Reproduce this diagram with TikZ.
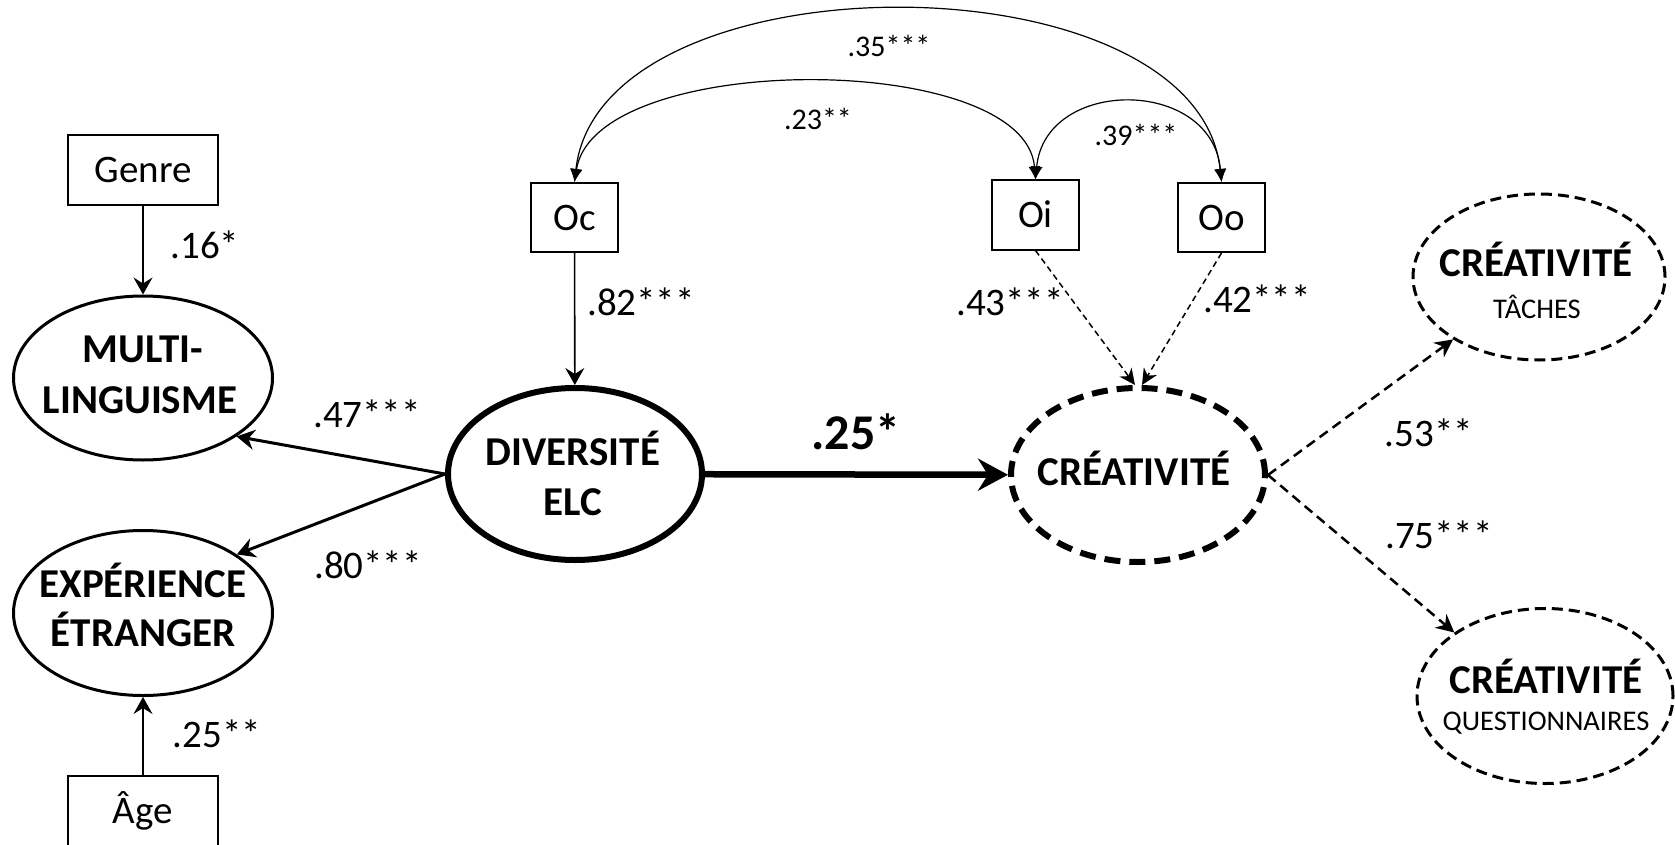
\documentclass[tikz,border=0pt]{standalone}
\usepackage{fontspec}
\setmainfont{Carlito}
\usetikzlibrary{arrows.meta,shapes.geometric}
\newcommand\myreg{\fontsize{39}{46}\selectfont}
\newcommand\mybold{\fontsize{41}{48}\selectfont\bfseries}
\newcommand\mysmall{\fontsize{30}{36}\selectfont}
\newcommand\mysub{\fontsize{28.5}{33}\selectfont}
\newcommand\mybig{\fontsize{50}{58}\selectfont\bfseries}
\begin{document}
\begin{tikzpicture}[x=1pt,y=-1pt,
  box/.style={draw, line width=2pt, minimum width=150pt, minimum height=70pt, inner sep=0pt, text height=25pt, text depth=0pt, font=\myreg},
  obox/.style={box, minimum width=87pt, minimum height=69pt},
  lat/.style={ellipse, draw, line width=3pt, inner sep=0pt, minimum width=259pt, minimum height=164pt},
  biglat/.style={ellipse, draw, line width=6pt, inner sep=0pt, minimum width=254pt, minimum height=172pt},
  dlat/.style={ellipse, draw, line width=3pt, inner sep=0pt, dash pattern=on 11pt off 6pt},
  tb/.style={anchor=base, inner sep=0pt, font=\mybold},
  ts/.style={anchor=base, inner sep=0pt, font=\mysub},
  lab/.style={anchor=base, inner sep=0pt, font=\myreg},
  slab/.style={anchor=base, inner sep=0pt, font=\mysmall},
  thinarr/.style={line width=1.3pt, -{Stealth[length=17pt,width=19pt,inset=6pt]}},
  midarr/.style={line width=3pt, -{Stealth[length=18pt,width=20pt,inset=6pt]}},
  thickarr/.style={line width=6.5pt, -{Stealth[length=30pt,width=32pt,inset=10pt]}},
  dasharr/.style={line width=2.5pt, dash pattern=on 10pt off 6pt, -{Stealth[length=18pt,width=18pt,inset=6pt]}},
  thindash/.style={line width=1.5pt, dash pattern=on 6pt off 4pt, -{Stealth[length=16pt,width=15pt,inset=5pt]}},
  corr/.style={line width=1.2pt, {Latex[length=13pt,width=12pt]}-{Latex[length=13pt,width=12pt]}}
]
\path[use as bounding box, clip] (0,0) rectangle (1675,845);

% observed boxes
\node[box] (genre) at (143,170) {Genre};
\node[box] (age) at (143,811) {Âge};
\node[obox] (oc) at (574.5,217.5) {Oc};
\node[obox] (oi) at (1035.5,215) {Oi};
\node[obox] (oo) at (1221.5,217.5) {Oo};

% latent ellipses
\node[lat] (multi) at (143,378) {};
\node[lat, minimum height=165pt] (exp) at (143,613) {};
\node[biglat] (div) at (575,474) {};
\node[biglat, dash pattern=on 16pt off 9pt, minimum height=174pt] (cre) at (1138,475) {};
\node[dlat, minimum width=252pt, minimum height=166pt] (tach) at (1539,277) {};
\node[dlat, minimum width=256pt, minimum height=175pt] (ques) at (1545,696) {};

% texts in ellipses
\node[tb] (multi1) at (143,362) {MULTI-};
\node[tb] (multi2) at (140,413) {LINGUISME};
\node[tb] (exp1) at (143,597) {EXPÉRIENCE};
\node[tb] (exp2) at (143,646) {ÉTRANGER};
\node[tb] (div1) at (573,465) {DIVERSITÉ};
\node[tb] (div2) at (573,515) {ELC};
\node[tb] (cre1) at (1134,485) {CRÉATIVITÉ};
\node[tb] (tach1) at (1536,276) {CRÉATIVITÉ};
\node[ts] (tach2) at (1537,318) {TÂCHES};
\node[tb] (ques1) at (1546,693) {CRÉATIVITÉ};
\node[ts] (ques2) at (1546,730) {QUESTIONNAIRES};

% connectors
\draw[thinarr] (genre) -- (multi);
\draw[thinarr] (age) -- (exp);
\draw[thinarr, line width=1.6pt] (oc) -- (div);
\draw[midarr] (div.west) -- (multi.-32.5);
\draw[midarr] (div.west) -- (exp.32.7);
\draw[thickarr] (div) -- (cre);
\draw[thindash] (oi.south) -- ([xshift=-3pt]cre.north);
\draw[thindash] (oo.south) -- ([xshift=4pt]cre.north);
\draw[dasharr] (cre.east) -- (tach.-144.7);
\draw[dasharr] (cre.east) -- (ques.145);

% correlations
\draw[corr] (oo.north) .. controls (1197,-47) and (600,-47) .. (oc.north);
\draw[corr] (oi.north) .. controls (1025,50) and (595,50) .. (oc.north);
\draw[corr] (oi.north) .. controls (1045,77) and (1212,77) .. (oo.north);

% labels
\node[lab] (l16) at (205,258) {.16*};
\node[lab] (l25b) at (217,747) {.25**};
\node[lab] (l47) at (367,427) {.47***};
\node[lab] (l80) at (368,578) {.80***};
\node[lab] (l82) at (641,315) {.82***};
\node[lab] (l43) at (1010,315) {.43***};
\node[lab] (l42) at (1257,312) {.42***};
\node[lab] (l53) at (1429,446) {.53**};
\node[lab] (l75) at (1439,548) {.75***};
\node[lab, font=\mybig] (l25) at (856,449) {.25*};
\node[slab] (l35) at (889,57) {.35***};
\node[slab] (l23) at (818,130) {.23**};
\node[slab] (l39) at (1136,146) {.39***};
\end{tikzpicture}
\end{document}
